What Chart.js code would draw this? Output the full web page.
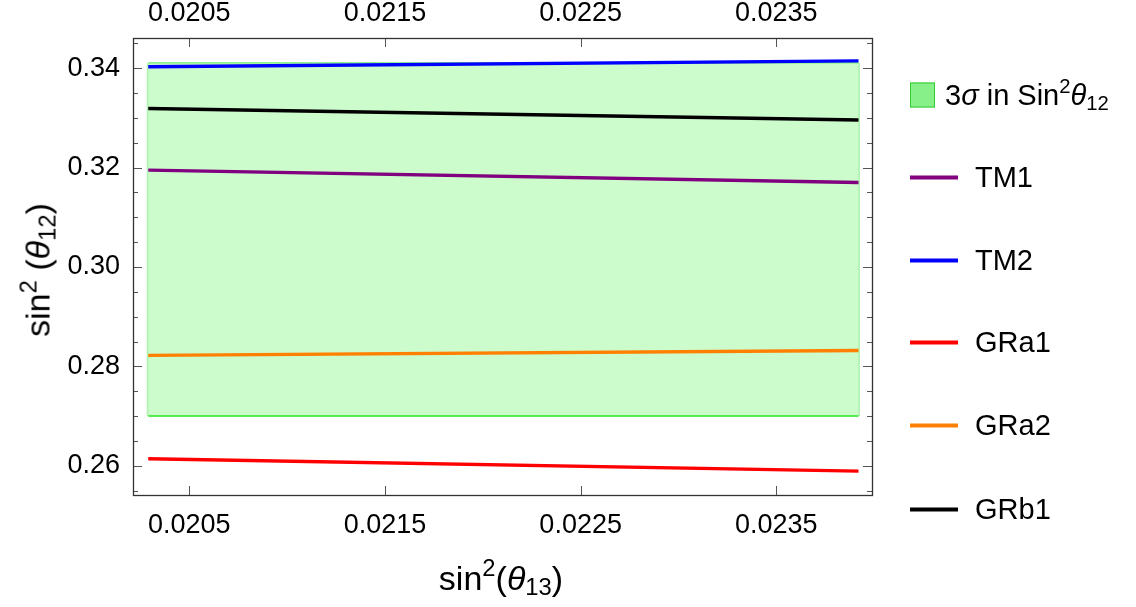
<!DOCTYPE html>
<html>
<head>
<meta charset="utf-8">
<script src="https://cdn.jsdelivr.net/npm/chart.js@4.4.1/dist/chart.umd.min.js"></script>
<style>
  body { margin: 0; background: #fff; }
  #wrap { position: relative; width: 1136px; height: 607px; font-family: "Liberation Sans", Arial, sans-serif; color: #000; }
  #chart { position: absolute; left: 0; top: 0; }
  .title { position: absolute; font-size: 34px; white-space: nowrap; }
  i { font-style: italic; }
  sup { font-size: 0.7em; vertical-align: 0.55em; line-height: 0; }
  sub { font-size: 0.7em; vertical-align: -0.25em; line-height: 0; }
  #xtitle { left: 501px; top: 578px; transform: translate(-50%, -50%); }
  #ytitle { left: 38px; top: 270px; transform: translate(-50%, -50%) rotate(-90deg); }
  .legend { position: absolute; left: 910px; font-size: 29px; display: flex; align-items: center; white-space: nowrap; transform: translateY(-50%); }
  .legend .box { width: 23px; height: 23px; background: #88f088; border: 1px solid #33cc33; margin-right: 10px; }
  .legend .ln { width: 48px; height: 4px; margin-right: 17px; }
</style>
</head>
<body>
<div id="wrap">
  <canvas id="chart" width="1136" height="607"></canvas>
  <div class="title" id="xtitle">sin<sup>2</sup>(<i>θ</i><sub>13</sub>)</div>
  <div class="title" id="ytitle">sin<sup>2</sup> (<i>θ</i><sub>12</sub>)</div>
  <div id="legend"></div>
</div>
<script>
// Data
const xEnds = [0.02029, 0.02392];
const bandTop = [0.341, 0.341];
const bandBottom = [0.270, 0.270];
const tm1 = [0.3195, 0.3170];
const tm2 = [0.3403, 0.3415];
const gra1 = [0.2614, 0.2589];
const gra2 = [0.2822, 0.2832];
const grb1 = [0.3319, 0.3296];

const seriesNames = ["TM1", "TM2", "GRa1", "GRa2", "GRb1"];
const seriesValues = [tm1, tm2, gra1, gra2, grb1];
const seriesColors = ["#800080", "#0000ff", "#ff0000", "#ff8000", "#000000"];

// Axis ticks
const xTicks = [0.0205, 0.0215, 0.0225, 0.0235];
const yTicks = [0.255, 0.26, 0.265, 0.27, 0.275, 0.28, 0.285, 0.29, 0.295, 0.30,
                0.305, 0.31, 0.315, 0.32, 0.325, 0.33, 0.335, 0.34, 0.345];
const yLabels = [0.26, 0.28, 0.30, 0.32, 0.34];

const xMin = 0.020212, xMax = 0.023989;
const yMin = 0.2541, yMax = 0.3461;

const FONT = '"Liberation Sans", Arial, sans-serif';

const toPts = (ys) => xEnds.map((x, i) => ({ x: x, y: ys[i] }));

const datasets = [
  { label: "band top", data: toPts(bandTop), borderColor: "#22e822", borderWidth: 1.5, pointRadius: 0, fill: false, order: 10 },
  { label: "band", data: toPts(bandBottom), borderColor: "#22e822", borderWidth: 1.5, pointRadius: 0,
    fill: "-1", backgroundColor: "rgba(204,252,204,1)", order: 9 }
];
seriesNames.forEach((name, i) => {
  datasets.push({ label: name, data: toPts(seriesValues[i]), borderColor: seriesColors[i],
    borderWidth: 3.4, pointRadius: 0, fill: false, order: i });
});

const isLabel = (v) => yLabels.some(l => Math.abs(l - v) < 1e-9);

// light green side edges of the band, then frame with inward ticks
const framePlugin = {
  id: "frame",
  beforeDatasetsDraw(chart) {
    const { ctx, scales } = chart;
    const yt = scales.y.getPixelForValue(bandTop[0]);
    const yb = scales.y.getPixelForValue(bandBottom[0]);
    ctx.save();
    ctx.strokeStyle = "#b2f2b2";
    ctx.lineWidth = 3;
    xEnds.forEach(x => {
      const px = scales.x.getPixelForValue(x);
      ctx.beginPath(); ctx.moveTo(px, yt); ctx.lineTo(px, yb); ctx.stroke();
    });
    ctx.restore();
  },
  afterDatasetsDraw(chart) {
    const { ctx, chartArea: a, scales } = chart;
    ctx.save();
    ctx.strokeStyle = "#555";
    ctx.lineWidth = 1;
    ctx.beginPath();
    scales.y.ticks.forEach(t => {
      const y = Math.round(scales.y.getPixelForValue(t.value)) + 0.5;
      const len = isLabel(t.value) ? 9 : 5;
      ctx.moveTo(a.left, y); ctx.lineTo(a.left + len, y);
      ctx.moveTo(a.right, y); ctx.lineTo(a.right - len, y);
    });
    scales.x.ticks.forEach(t => {
      const x = Math.round(scales.x.getPixelForValue(t.value)) + 0.5;
      ctx.moveTo(x, a.bottom); ctx.lineTo(x, a.bottom - 9);
      ctx.moveTo(x, a.top); ctx.lineTo(x, a.top + 9);
    });
    ctx.stroke();
    ctx.strokeStyle = "#333";
    ctx.lineWidth = 1.3;
    ctx.strokeRect(Math.round(a.left) + 0.5, Math.round(a.top) + 0.5,
      Math.round(a.right - a.left), Math.round(a.bottom - a.top));
    ctx.restore();
  }
};

const tickFont = { family: FONT, size: 27 };
const hiddenGrid = { display: false, drawTicks: false, drawOnChartArea: false };

new Chart(document.getElementById("chart"), {
  type: "line",
  data: { datasets: datasets },
  options: {
    responsive: false,
    devicePixelRatio: 1,
    animation: false,
    layout: { padding: { left: 0, top: 0, right: 264, bottom: 0 } },
    plugins: { legend: { display: false }, tooltip: { enabled: false } },
    scales: {
      x: {
        type: "linear", position: "bottom", min: xMin, max: xMax,
        afterBuildTicks: s => { s.ticks = xTicks.map(v => ({ value: v })); },
        afterFit: s => { s.height = 112; },
        ticks: { font: tickFont, color: "#000", padding: 14, maxRotation: 0, autoSkip: false,
                 callback: v => v.toFixed(4) },
        grid: hiddenGrid, border: { display: false }
      },
      x2: {
        type: "linear", position: "top", min: xMin, max: xMax,
        afterBuildTicks: s => { s.ticks = xTicks.map(v => ({ value: v })); },
        afterFit: s => { s.height = 38; },
        ticks: { font: tickFont, color: "#000", padding: 8, maxRotation: 0, autoSkip: false,
                 callback: v => v.toFixed(4) },
        grid: hiddenGrid, border: { display: false }
      },
      y: {
        type: "linear", position: "left", min: yMin, max: yMax,
        afterBuildTicks: s => { s.ticks = yTicks.map(v => ({ value: v })); },
        afterFit: s => { s.width = 133; },
        ticks: { font: tickFont, color: "#000", padding: 13, autoSkip: false,
                 callback: v => isLabel(v) ? v.toFixed(2) : "" },
        grid: hiddenGrid, border: { display: false }
      }
    }
  },
  plugins: [framePlugin]
});

// Legend beside the plot
const legend = document.getElementById("legend");
const legendY = [95, 177, 260, 342, 425, 509];
legend.innerHTML =
  `<div class="legend" style="top:${legendY[0]}px"><span class="box"></span><span>3<i>σ</i> in Sin<sup>2</sup><i>θ</i><sub>12</sub></span></div>` +
  seriesNames.map((name, i) =>
    `<div class="legend" style="top:${legendY[i + 1]}px"><span class="ln" style="background:${seriesColors[i]}"></span><span>${name}</span></div>`
  ).join("");
</script>
</body>
</html>
